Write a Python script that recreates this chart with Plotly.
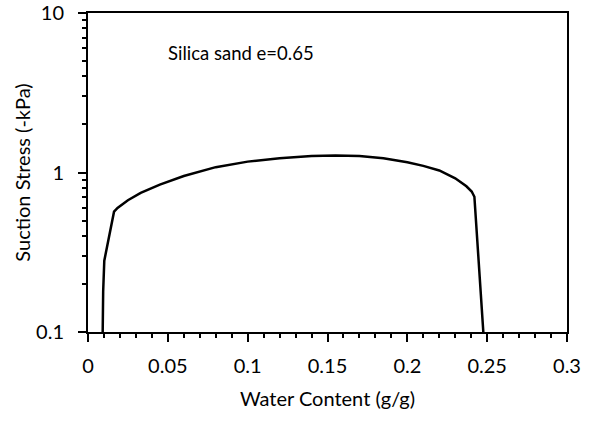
import plotly.graph_objects as go

water_content = [0.0092, 0.0095, 0.0102, 0.0163, 0.0185, 0.025, 0.033, 0.045, 0.06, 0.08,
                 0.10, 0.12, 0.14, 0.155, 0.17, 0.185, 0.20, 0.21, 0.22, 0.23, 0.237,
                 0.2403, 0.242, 0.2476]
suction_stress = [0.10, 0.18, 0.28, 0.568, 0.60, 0.67, 0.745, 0.84, 0.95, 1.08,
                  1.17, 1.23, 1.27, 1.28, 1.27, 1.23, 1.16, 1.10, 1.03, 0.92, 0.82,
                  0.76, 0.705, 0.10]

x_range = [0, 0.3]
x_major_step = 0.05
x_minor_step = 0.01
y_range_log = [-1, 1.00002]   # 0.1 .. 10

font = "Lato, Carlito, Calibri, sans-serif"

fig = go.Figure()
fig.add_trace(go.Scatter(x=water_content, y=suction_stress, mode="lines",
                         line=dict(color="black", width=2.5), showlegend=False))

fig.update_layout(
    width=589, height=423,
    margin=dict(l=88, r=22, t=13, b=91),
    plot_bgcolor="white", paper_bgcolor="white",
    font=dict(family=font, color="black", size=20),
    annotations=[dict(text="Silica sand e=0.65", x=0.163, y=0.876, xref="paper", yref="paper",
                      xanchor="left", yanchor="middle", showarrow=False,
                      font=dict(family=font, size=18.5, color="black"))],
)
fig.update_xaxes(
    range=x_range, tickmode="linear", tick0=0, dtick=x_major_step, automargin=False,
    showline=True, linecolor="black", linewidth=2, mirror=True,
    ticks="outside", ticklen=8, tickwidth=1.5, tickcolor="black", ticklabelstandoff=7,
    ticklabeloverflow="allow",
    minor=dict(tickmode="linear", tick0=0, dtick=x_minor_step, ticks="outside", ticklen=4,
               tickwidth=1.5, tickcolor="black", showgrid=False),
    showgrid=False, zeroline=False,
    title=dict(text="Water Content (g/g)", font=dict(size=20), standoff=16),
    tickfont=dict(size=20),
)
fig.update_yaxes(
    type="log", range=y_range_log, tickmode="linear", tick0=0, dtick=1, automargin=False,
    showline=True, linecolor="black", linewidth=2, mirror=True,
    ticks="outside", ticklen=8, tickwidth=1.5, tickcolor="black", ticklabelstandoff=10,
    ticklabeloverflow="allow",
    minor=dict(dtick="D1", ticks="outside", ticklen=4,
               tickwidth=1.5, tickcolor="black", showgrid=False),
    showgrid=False, zeroline=False,
    title=dict(text="Suction Stress (-kPa)", font=dict(size=20), standoff=0),
    tickfont=dict(size=20),
)

fig.write_html("out.html")
